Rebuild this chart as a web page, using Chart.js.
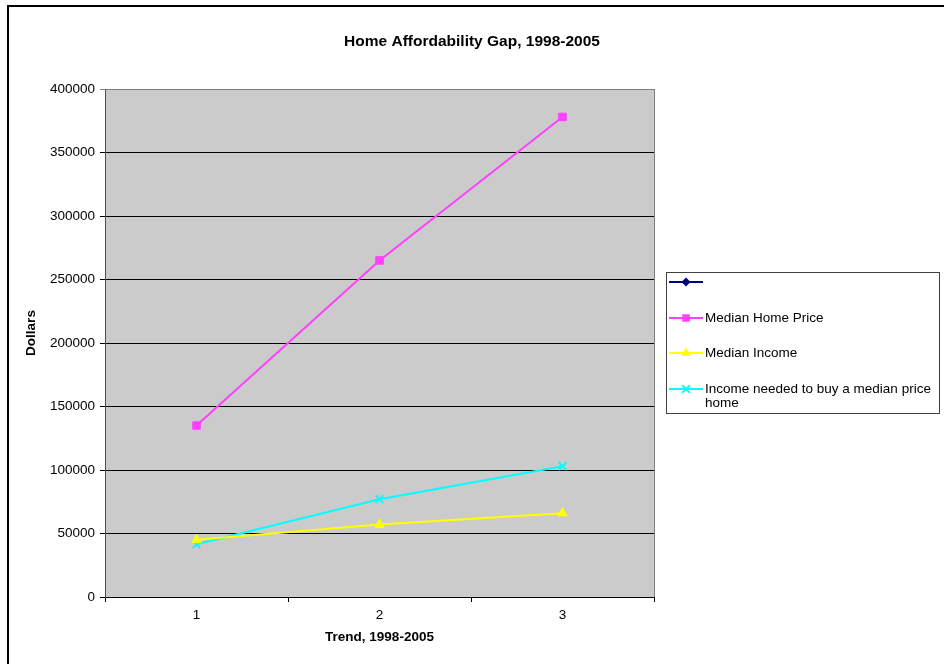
<!DOCTYPE html>
<html>
<head>
<meta charset="utf-8">
<script src="https://cdn.jsdelivr.net/npm/chart.js@4/dist/chart.umd.min.js"></script>
<style>
  html, body { margin: 0; padding: 0; background: #fff; }
  #wrap { width: 944px; height: 664px; position: relative; }
</style>
</head>
<body>
<div id="wrap"><canvas id="c" width="944" height="664"></canvas></div>
<script>
const categories = ['1', '2', '3'];
const seriesBlank = [null, null, null];
const medianHomePrice = [135000, 265000, 378000];
const medianIncome = [45000, 57000, 66000];
const incomeNeeded = [41500, 77000, 103000];
const yTickValues = [0, 50000, 100000, 150000, 200000, 250000, 300000, 350000, 400000];

const FONT = "'Liberation Sans', Arial, sans-serif";
Chart.defaults.font.family = FONT;
Chart.defaults.color = '#000';

function drawMarker(ctx, style, r, x, y, color, bw) {
  ctx.save();
  ctx.fillStyle = color; ctx.strokeStyle = color; ctx.lineWidth = bw;
  ctx.beginPath();
  if (style === 'rect') {
    const s = r * Math.SQRT1_2;
    ctx.rect(x - s, y - s, 2 * s, 2 * s); ctx.fill();
  } else if (style === 'triangle') {
    ctx.moveTo(x, y - r);
    ctx.lineTo(x + r * 0.866, y + r * 0.5);
    ctx.lineTo(x - r * 0.866, y + r * 0.5);
    ctx.closePath(); ctx.fill();
  } else if (style === 'crossRot') {
    const s = r * Math.SQRT1_2;
    ctx.moveTo(x - s, y - s); ctx.lineTo(x + s, y + s);
    ctx.moveTo(x + s, y - s); ctx.lineTo(x - s, y + s);
    ctx.stroke();
  } else if (style === 'rectRot') {
    ctx.moveTo(x, y - r); ctx.lineTo(x + r, y); ctx.lineTo(x, y + r); ctx.lineTo(x - r, y);
    ctx.closePath(); ctx.fill();
  }
  ctx.restore();
}

const decor = {
  id: 'decor',
  beforeDraw(chart) {
    const {ctx, chartArea: a} = chart;
    ctx.save();
    ctx.fillStyle = '#fff';
    ctx.fillRect(0, 0, chart.width, chart.height);
    ctx.fillStyle = '#cbcbcb';
    ctx.fillRect(a.left, a.top, a.right - a.left, a.bottom - a.top);
    ctx.strokeStyle = '#808080';
    ctx.lineWidth = 1;
    ctx.strokeRect(Math.round(a.left) + 0.5, Math.round(a.top) + 0.5, Math.round(a.right - a.left), Math.round(a.bottom - a.top));
    // outer chart border
    ctx.strokeStyle = '#000';
    ctx.lineWidth = 2;
    ctx.strokeRect(8, 6, chart.width + 10, chart.height + 10);
    ctx.restore();
  },
  afterDraw(chart) {
    const ctx = chart.ctx;
    const a = chart.chartArea;
    ctx.save();
    // y axis title
    ctx.font = 'bold 13.5px ' + FONT;
    ctx.fillStyle = '#000';
    ctx.textAlign = 'center';
    ctx.textBaseline = 'middle';
    ctx.translate(31, 333);
    ctx.rotate(-Math.PI / 2);
    ctx.fillText('Dollars', 0, 0);
    ctx.restore();

    const box = {x: 666, y: 272, w: 273, h: 141};
    ctx.save();
    ctx.strokeStyle = '#404040';
    ctx.lineWidth = 1;
    ctx.strokeRect(box.x + 0.5, box.y + 0.5, box.w, box.h);
    ctx.font = '13.5px ' + FONT;
    ctx.textBaseline = 'middle';
    ctx.fillStyle = '#000';
    const rows = [282, 318, 353, 389];
    const maxW = box.x + box.w - 705 - 2;
    chart.data.datasets.forEach((ds, i) => {
      const y = rows[i];
      ctx.strokeStyle = ds.borderColor;
      ctx.lineWidth = ds.borderWidth;
      ctx.beginPath(); ctx.moveTo(669, y); ctx.lineTo(703, y); ctx.stroke();
      drawMarker(ctx, ds.pointStyle, ds.pointRadius, 686, y, ds.borderColor, ds.pointBorderWidth || 1);
      const words = (ds.label || '').split(' ');
      let lines = [], cur = '';
      words.forEach(w => {
        const t = cur ? cur + ' ' + w : w;
        if (ctx.measureText(t).width > maxW && cur) { lines.push(cur); cur = w; } else cur = t;
      });
      if (cur) lines.push(cur);
      ctx.fillStyle = '#000';
      lines.forEach((l, k) => ctx.fillText(l, 705, y + k * 14));
    });
    ctx.restore();
  }
};

new Chart(document.getElementById('c'), {
  type: 'line',
  data: {
    labels: categories,
    datasets: [
      { label: '', data: seriesBlank, borderColor: '#000080', backgroundColor: '#000080',
        borderWidth: 2, pointStyle: 'rectRot', pointRadius: 4.5 },
      { label: 'Median Home Price', data: medianHomePrice, borderColor: '#ff40ff', backgroundColor: '#ff40ff',
        borderWidth: 2, pointStyle: 'rect', pointRadius: 5.3, pointBorderWidth: 1 },
      { label: 'Median Income', data: medianIncome, borderColor: '#ffff00', backgroundColor: '#ffff00',
        borderWidth: 2, pointStyle: 'triangle', pointRadius: 5.5, pointBorderWidth: 1 },
      { label: 'Income needed to buy a median price home', data: incomeNeeded, borderColor: '#00ffff', backgroundColor: '#00ffff',
        borderWidth: 2, pointStyle: 'crossRot', pointRadius: 5.5, pointBorderWidth: 2 }
    ]
  },
  options: {
    responsive: false,
    animation: false,
    devicePixelRatio: 1,
    layout: { padding: { left: 0, right: 0, top: 0, bottom: 0 } },
    elements: { line: { tension: 0 } },
    plugins: {
      legend: { display: false },
      tooltip: { enabled: false },
      title: {
        display: true,
        text: 'Home Affordability Gap, 1998-2005',
        font: { size: 15.5, weight: 'bold', family: FONT },
        color: '#000',
        padding: { top: 32, bottom: 38.4 }
      }
    },
    scales: {
      x: {
        type: 'category',
        offset: true,
        afterFit(s) { s.height = 67; },
        grid: { offset: true, drawOnChartArea: false, drawTicks: true, tickLength: 5, color: '#000' },
        border: { color: '#000', width: 1 },
        ticks: { font: { size: 13.5 }, color: '#000', padding: 5, maxRotation: 0 },
        title: { display: true, text: 'Trend, 1998-2005', font: { size: 13.5, weight: 'bold' }, color: '#000',
                 padding: { top: 0, bottom: 19 } }
      },
      y: {
        min: 0, max: 400000,
        afterFit(s) { s.width = 105; },
        afterBuildTicks(s) { s.ticks = yTickValues.map(v => ({ value: v })); },
        grid: { color: c => (c.tick && c.tick.value === 400000) ? '#808080' : '#000', drawTicks: true, tickLength: 5 },
        border: { color: '#505050', width: 1 },
        ticks: { font: { size: 13.5 }, color: '#000', padding: 5, callback: v => String(v) },
        title: { display: false }
      },
      legendSpace: {
        type: 'linear',
        position: 'right',
        display: true,
        afterFit(s) { s.width = 290; },
        grid: { display: false, drawOnChartArea: false },
        border: { display: false },
        ticks: { display: false }
      }
    }
  },
  plugins: [decor]
});
</script>
</body>
</html>
